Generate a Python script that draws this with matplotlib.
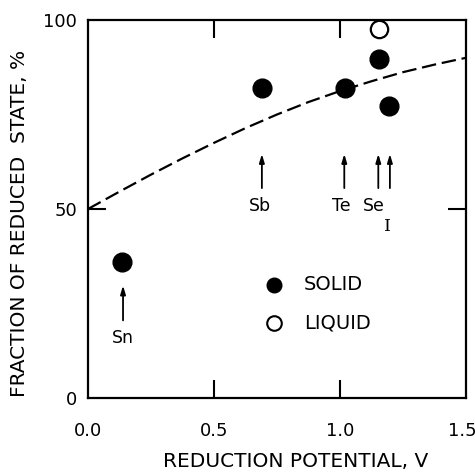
import matplotlib
matplotlib.use("Agg")
import matplotlib.pyplot as plt
import matplotlib.transforms as mtransforms

# Data
elements = ["Sn", "Sb", "Te", "Se", "I"]
solid_x = [0.135, 0.69, 1.02, 1.155, 1.195]
solid_y = [36.0, 82.0, 82.0, 89.7, 77.3]
liquid_x = [1.155]
liquid_y = [97.7]

curve_x = [0.0, 0.125, 0.25, 0.375, 0.5, 0.625, 0.75, 0.875, 1.0, 1.125, 1.25, 1.375, 1.5]
curve_y = [50.0, 54.6, 59.1, 63.4, 67.5, 71.4, 75.0, 78.3, 81.2, 83.8, 86.2, 88.2, 90.0]

x_ticks = [0.0, 0.5, 1.0, 1.5]
x_ticklabels = ["0.0", "0.5", "1.0", "1.5"]
y_ticks = [0, 50, 100]
y_ticklabels = ["0", "50", "100"]

fig = plt.figure(figsize=(4.75, 4.74), dpi=100)
ax = fig.add_axes([88/475, 1-398/474, 378/475, 378/474])

ax.plot(curve_x, curve_y, color="black", lw=1.6, dashes=(6.5, 2.6), zorder=2)
ax.plot(solid_x, solid_y, "o", color="black", ms=13.5, zorder=3)
ax.plot(liquid_x, liquid_y, "o", mfc="white", mec="black", mew=1.6, ms=12.5, zorder=3)

# arrows and element labels
arrow_kw = dict(arrowstyle="-|>,head_length=0.5,head_width=0.15", color="black", lw=1.3)
ax.annotate("", xy=(0.139, 30.5), xytext=(0.139, 19.8), arrowprops=arrow_kw)
ax.text(0.138, 16.0, "Sn", ha="center", va="center", fontsize=12.5)
for xa in [0.69, 1.017, 1.152, 1.198]:
    ax.annotate("", xy=(xa, 65.3), xytext=(xa, 54.8), arrowprops=arrow_kw)
ax.text(0.683, 50.8, "Sb", ha="center", va="center", fontsize=12.5)
ax.text(1.005, 50.8, "Te", ha="center", va="center", fontsize=12.5)
ax.text(1.135, 50.8, "Se", ha="center", va="center", fontsize=12.5)
ax.text(1.19, 45.5, "I", ha="center", va="center", fontsize=12.5, family="DejaVu Serif")

# legend drawn in data space
ax.plot([0.739], [29.9], "o", color="black", ms=10.5)
ax.plot([0.739], [19.8], "o", mfc="white", mec="black", mew=1.5, ms=10.5)
ax.text(0.858, 29.9, "SOLID", ha="left", va="center", fontsize=14)
ax.text(0.858, 19.8, "LIQUID", ha="left", va="center", fontsize=14)

ax.set_xlim(0, 1.5)
ax.set_ylim(0, 100)
ax.set_xticks(x_ticks)
ax.set_xticklabels(x_ticklabels)
ax.set_yticks(y_ticks)
ax.set_yticklabels(y_ticklabels)
ax.tick_params(axis="both", direction="in", length=13, width=1.5, labelsize=13,
               top=True, right=True)
ax.tick_params(axis="x", pad=17)
ax.tick_params(axis="y", pad=8)
# hide end ticks (reference shows ticks only at interior positions)
for t in ax.xaxis.get_major_ticks():
    if t.get_loc() in (0.0, 1.5):
        t.tick1line.set_visible(False)
        t.tick2line.set_visible(False)
for t in ax.yaxis.get_major_ticks():
    if t.get_loc() in (0, 100):
        t.tick1line.set_visible(False)
        t.tick2line.set_visible(False)

# nudge the last x tick label left so it stays inside the figure
last = ax.get_xticklabels()[-1]
last.set_transform(last.get_transform() +
                   mtransforms.ScaledTranslation(-4/100, 0, fig.dpi_scale_trans))

for s in ax.spines.values():
    s.set_linewidth(1.6)

ax.set_xlabel("REDUCTION POTENTIAL, V", fontsize=14.5)
ax.set_ylabel("FRACTION OF REDUCED  STATE, %", fontsize=14.5)
ax.xaxis.set_label_coords(0.548, -0.169)
ax.xaxis.label.set_va("center")
ax.yaxis.set_label_coords(-0.18, 0.463)
ax.yaxis.label.set_va("center")

fig.savefig("out.png", dpi=100)
